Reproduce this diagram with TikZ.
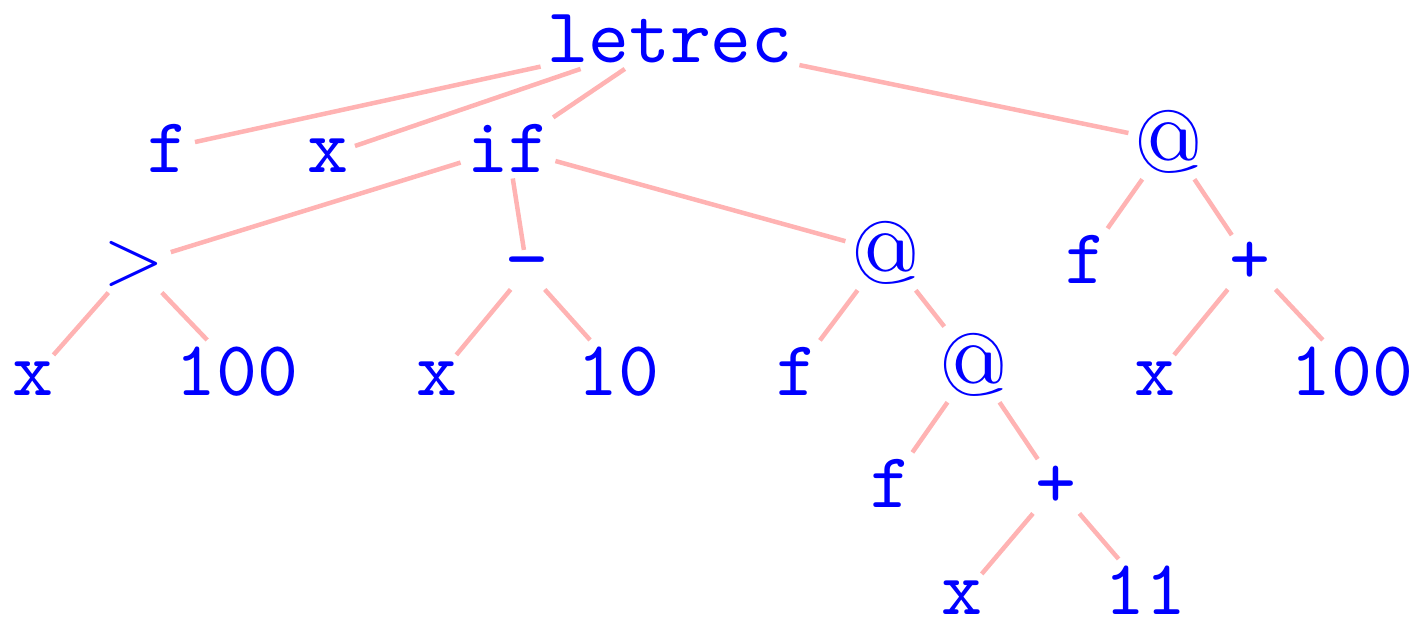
\documentclass[tikz,border=0pt]{standalone}
\usepackage{xcolor}
\usepackage{tikz}
\definecolor{termcolor}{HTML}{0000FF}
\definecolor{edgecolor}{HTML}{FFB3B3}

\begin{document}
\begin{tikzpicture}[x=0.01cm, y=-0.01cm,
  tok/.style={scale=2.22, transform shape, inner sep=0.022cm, anchor=base, text=termcolor, font=\fontsize{10}{12}\selectfont\ttfamily},
  sym/.style={tok, font=\fontsize{10}{12}\selectfont\rmfamily},
  app/.style={sym, scale=1.13, inner sep=0.018cm},
  link/.style={draw=edgecolor, line width=0.045cm}]%
\useasboundingbox (0,0) rectangle (1413,621);%
% row 1
\node[tok] (letrec) at (670,62) {letrec};%
% row 2
\node[tok] (f1) at (168,172) {f};%
\node[tok] (x1) at (328,172) {x};%
\node[tok] (if) at (508,172) {if};%
\node[app] (app1) at (1169,172) {@};%
% row 3
\node[sym] (gt) at (134,283) {>};%
\node[tok] (minus) at (527,283) {−};%
\node[app] (app2) at (886,283) {@};%
\node[tok] (f2) at (1086,283) {f};%
\node[tok] (plus1) at (1250,283) {+};%
% row 4
\node[tok] (x2) at (33,395) {x};%
\node[tok] (hundred1) at (237,395) {100};%
\node[tok] (x3) at (437,395) {x};%
\node[tok] (ten) at (618,395) {10};%
\node[tok] (f3) at (797,395) {f};%
\node[app] (app3) at (974,395) {@};%
\node[tok] (x4) at (1155,395) {x};%
\node[tok] (hundred2) at (1352,395) {100};%
% row 5
\node[tok] (f4) at (891,507) {f};%
\node[tok] (plus2) at (1056,507) {+};%
% row 6
\node[tok] (x5) at (962,614) {x};%
\node[tok] (eleven) at (1145,614) {11};%
% edges
\foreach \p/\c in {letrec/f1, letrec/x1, letrec/if, letrec/app1,
  if/gt, if/minus, if/app2, app1/f2, app1/plus1,
  gt/x2, gt/hundred1, minus/x3, minus/ten, app2/f3, app2/app3,
  plus1/x4, plus1/hundred2, app3/f4, app3/plus2, plus2/x5, plus2/eleven}
  \draw[link] (\p) -- (\c);%
\end{tikzpicture}
\end{document}
